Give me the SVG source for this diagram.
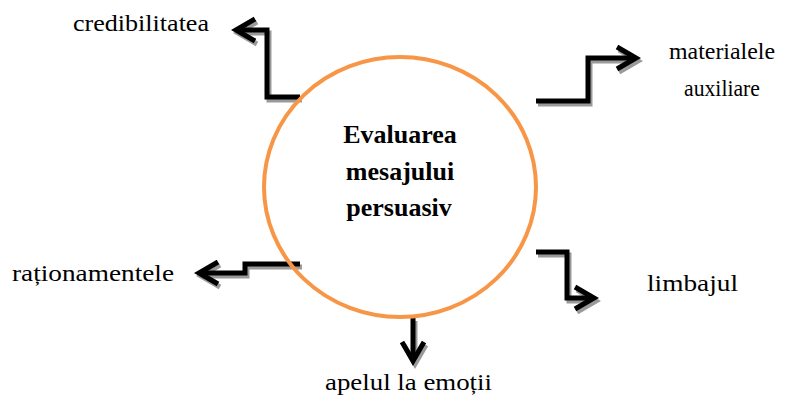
<svg xmlns="http://www.w3.org/2000/svg" width="787" height="396" viewBox="0 0 787 396">
<defs>
<style>
.lbl{font-family:"Liberation Serif","Times New Roman",serif;font-size:23px;fill:#000}
.ttl{font-family:"Liberation Serif","Times New Roman",serif;font-size:26px;font-weight:bold;fill:#000;text-anchor:middle}
.conn{fill:none;stroke:#000;stroke-width:5;stroke-linejoin:miter}
.shad{fill:none;stroke:#9a9a9a;stroke-width:5;stroke-linejoin:miter}
</style>
<marker id="ah" markerUnits="userSpaceOnUse" markerWidth="40" markerHeight="40" viewBox="-30 -20 40 40" refX="0" refY="0" orient="auto" overflow="visible">
<path d="M-19,-11 L0,0 L-19,11" fill="none" stroke="#000" stroke-width="5" stroke-linejoin="miter"/>
</marker>
<marker id="ahs" markerUnits="userSpaceOnUse" markerWidth="40" markerHeight="40" viewBox="-30 -20 40 40" refX="0" refY="0" orient="auto" overflow="visible">
<path d="M-19,-11 L0,0 L-19,11" fill="none" stroke="#9a9a9a" stroke-width="5" stroke-linejoin="miter"/>
</marker>
</defs>
<rect width="787" height="396" fill="#fff"/>
<g id="connectors">
<g id="shadows" transform="translate(2,3)">
<path class="shad" marker-end="url(#ahs)" d="M300,97 H267 V30 H236"/>
<path class="shad" marker-end="url(#ahs)" d="M536,101 H588 V58 H636"/>
<path class="shad" marker-end="url(#ahs)" d="M300,264 H245 V273 H199"/>
<path class="shad" marker-end="url(#ahs)" d="M536,252 H567 V298 H594"/>
<path class="shad" marker-end="url(#ahs)" d="M413,318 V361"/>
</g>
<path class="conn" marker-end="url(#ah)" d="M300,97 H267 V30 H236"/>
<path class="conn" marker-end="url(#ah)" d="M536,101 H588 V58 H636"/>
<path class="conn" marker-end="url(#ah)" d="M300,264 H245 V273 H199"/>
<path class="conn" marker-end="url(#ah)" d="M536,252 H567 V298 H594"/>
<path class="conn" marker-end="url(#ah)" d="M413,318 V361"/>
</g>
<g id="center">
<ellipse cx="400" cy="187" rx="136" ry="130" fill="none" stroke="#F79646" stroke-width="4"/>
<text class="ttl" x="400" y="143">Evaluarea</text>
<text class="ttl" x="400" y="180">mesajului</text>
<text class="ttl" x="399" y="216">persuasiv</text>
</g>
<g id="credibilitatea"><text class="lbl" x="73" y="31" textLength="136" lengthAdjust="spacingAndGlyphs">credibilitatea</text></g>
<g id="materialele"><text class="lbl" x="669" y="59" textLength="106" lengthAdjust="spacingAndGlyphs">materialele</text>
<text class="lbl" x="684" y="96" textLength="76" lengthAdjust="spacingAndGlyphs">auxiliare</text></g>
<g id="limbajul"><text class="lbl" x="647" y="291" textLength="91" lengthAdjust="spacingAndGlyphs">limbajul</text></g>
<g id="rationamentele"><text class="lbl" x="12" y="281" textLength="162" lengthAdjust="spacingAndGlyphs">raționamentele</text></g>
<g id="apelul"><text class="lbl" x="325" y="390" textLength="167" lengthAdjust="spacingAndGlyphs">apelul la emoții</text></g>
</svg>
